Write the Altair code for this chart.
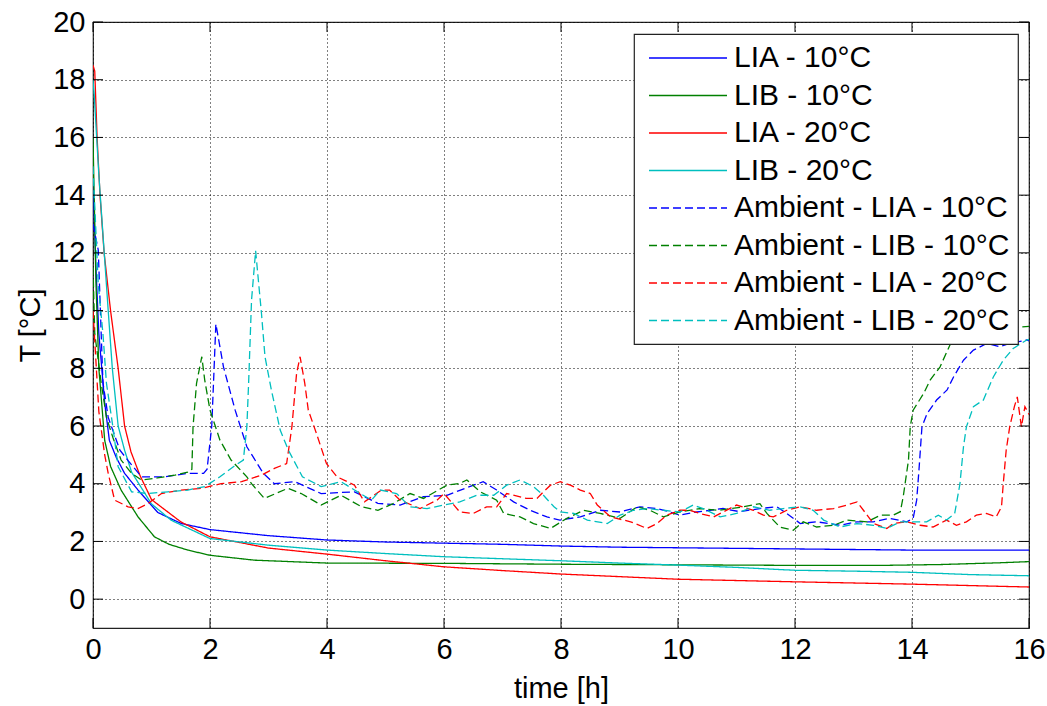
import altair as alt
import pandas as pd

# ---- data (t [h], T [°C]) ----
LIA_10 = [(0, 14.5), (0.05, 11.5), (0.1, 9.2), (0.2, 6.8), (0.28, 5.5), (0.4, 4.9), (0.54, 4.36),
          (0.77, 3.78), (1.11, 3.0), (1.51, 2.62), (2.0, 2.41), (3.0, 2.2), (4.0, 2.05), (5.0, 1.98),
          (6.0, 1.94), (7.0, 1.9), (8.0, 1.84), (9.0, 1.8), (10.0, 1.78), (11.0, 1.76), (12.0, 1.74),
          (13.0, 1.72), (14.0, 1.7), (15.0, 1.7), (16.0, 1.7)]
LIB_10 = [(0, 16.0), (0.05, 11.0), (0.1, 8.0), (0.2, 5.5), (0.3, 4.6), (0.48, 3.78), (0.77, 2.85),
          (1.05, 2.16), (1.3, 1.9), (1.62, 1.7), (2.0, 1.52), (2.76, 1.35), (4.0, 1.25), (6.0, 1.24),
          (8.0, 1.21), (10.0, 1.19), (12.0, 1.17), (13.5, 1.17), (14.5, 1.2), (15.5, 1.26), (16.0, 1.3)]
LIA_20 = [(0, 18.5), (0.03, 18.3), (0.07, 16.0), (0.12, 14.0), (0.19, 12.0), (0.3, 10.0), (0.43, 8.0),
          (0.54, 6.0), (0.65, 5.1), (0.8, 4.3), (1.0, 3.45), (1.5, 2.68), (2.0, 2.16), (3.0, 1.77),
          (4.0, 1.56), (5.0, 1.33), (6.0, 1.12), (7.0, 0.99), (8.0, 0.87), (10.0, 0.69), (12.0, 0.6),
          (14.0, 0.52), (16.0, 0.42)]
LIB_20 = [(0, 18.0), (0.02, 17.5), (0.1, 14.7), (0.26, 10.0), (0.33, 8.0), (0.43, 6.0), (0.54, 5.16),
          (0.66, 4.4), (1.0, 3.3), (1.34, 2.73), (2.0, 2.1), (3.0, 1.87), (4.0, 1.7), (5.0, 1.58),
          (6.0, 1.47), (7.0, 1.4), (8.0, 1.33), (9.0, 1.25), (10.0, 1.18), (11.0, 1.1), (12.0, 1.0),
          (13.0, 0.97), (14.0, 0.93), (15.0, 0.85), (16.0, 0.81)]
AMB_LIA_10 = [(0, 13.0), (0.09, 12.1), (0.14, 9.2), (0.17, 7.5), (0.26, 6.3), (0.46, 5.16), (0.6, 4.8),
              (0.83, 4.24), (1.22, 4.24), (1.62, 4.36), (1.89, 4.36), (1.95, 4.5), (2.03, 6.0), (2.07, 8.0),
              (2.1, 9.53), (2.13, 9.2), (2.23, 8.05), (2.43, 6.55), (2.63, 5.28), (2.91, 4.36), (3.1, 4.0),
              (3.45, 4.07), (3.9, 3.66), (4.47, 3.72), (4.87, 3.32), (5.25, 3.26), (5.65, 3.55), (6.05, 3.6),
              (6.27, 3.77), (6.67, 4.07), (6.9, 3.78), (7.19, 3.37), (7.47, 3.08), (7.76, 2.85), (7.98, 2.74),
              (8.33, 2.85), (8.67, 3.08), (9.01, 3.02), (9.35, 3.2), (9.64, 3.14), (9.86, 3.02), (10.03, 2.91),
              (10.32, 3.02), (10.55, 3.08), (10.77, 3.14), (11.06, 3.03), (11.4, 3.14), (11.69, 3.2),
              (11.86, 2.97), (12.09, 2.62), (12.37, 2.68), (12.77, 2.56), (13.06, 2.68), (13.34, 2.68),
              (13.62, 2.8), (13.91, 2.68), (14.02, 2.8), (14.08, 3.43), (14.12, 4.5), (14.17, 5.97),
              (14.26, 6.44), (14.42, 6.9), (14.6, 7.25), (14.71, 7.7), (14.88, 8.28), (15.05, 8.63),
              (15.28, 8.86), (15.5, 8.75), (15.67, 8.86), (15.96, 8.98), (16.0, 8.95)]
AMB_LIB_10 = [(0, 11.5), (0.03, 9.2), (0.14, 7.5), (0.23, 6.3), (0.34, 5.6), (0.48, 4.82), (0.66, 4.36),
              (0.83, 4.13), (1.1, 4.2), (1.4, 4.3), (1.62, 4.4), (1.69, 4.5), (1.71, 5.97), (1.77, 7.48),
              (1.86, 8.4), (1.91, 7.59), (2.0, 6.55), (2.17, 5.51), (2.36, 4.82), (2.63, 4.24), (2.71, 4.0),
              (2.93, 3.49), (3.33, 3.84), (3.56, 3.66), (3.9, 3.26), (4.24, 3.6), (4.59, 3.2), (4.87, 3.08),
              (5.13, 3.31), (5.42, 3.66), (5.65, 3.49), (6.05, 3.95), (6.27, 4.01), (6.39, 4.13), (6.62, 3.72),
              (6.9, 3.43), (7.02, 2.97), (7.3, 2.85), (7.53, 2.62), (7.82, 2.45), (8.1, 2.8), (8.39, 3.08),
              (8.67, 2.97), (9.01, 2.8), (9.3, 3.2), (9.52, 3.08), (9.75, 2.85), (10.03, 3.02), (10.37, 3.14),
              (10.7, 3.08), (11.12, 3.2), (11.4, 3.31), (11.52, 2.97), (11.74, 2.5), (11.97, 2.39),
              (12.14, 2.68), (12.37, 2.5), (12.66, 2.56), (12.89, 2.74), (13.23, 2.68), (13.46, 2.91),
              (13.68, 2.91), (13.8, 3.03), (13.85, 3.55), (13.94, 4.82), (13.97, 5.97), (14.02, 6.55),
              (14.2, 7.13), (14.31, 7.59), (14.48, 8.05), (14.66, 8.86), (14.77, 9.2), (15.0, 9.3),
              (15.3, 9.35), (15.6, 9.4), (16.0, 9.45)]
AMB_LIA_20 = [(0, 10.0), (0.1, 6.5), (0.2, 5.0), (0.26, 4.36), (0.37, 3.43), (0.6, 3.2), (0.77, 3.14),
              (0.94, 3.31), (1.17, 3.66), (1.51, 3.78), (1.85, 3.84), (2.19, 4.0), (2.54, 4.07), (2.88, 4.3),
              (3.1, 4.53), (3.31, 4.7), (3.4, 5.97), (3.48, 7.82), (3.54, 8.4), (3.62, 7.48), (3.68, 6.55),
              (3.82, 5.74), (3.99, 4.7), (4.17, 4.24), (4.47, 3.95), (4.64, 3.37), (4.93, 3.78), (5.07, 3.78),
              (5.25, 3.43), (5.59, 3.14), (5.88, 3.43), (6.0, 3.66), (6.27, 3.02), (6.5, 2.97), (6.73, 3.2),
              (6.9, 3.2), (7.07, 3.66), (7.41, 3.49), (7.59, 3.49), (7.7, 3.72), (7.82, 3.95), (7.99, 4.07),
              (8.16, 3.95), (8.33, 3.78), (8.5, 3.66), (8.62, 3.26), (8.85, 2.85), (9.19, 2.68), (9.47, 2.45),
              (9.64, 2.62), (9.81, 2.91), (10.03, 3.08), (10.2, 3.08), (10.37, 2.97), (10.61, 2.85),
              (11.0, 3.26), (11.29, 3.08), (11.46, 2.91), (11.63, 2.85), (11.86, 3.08), (12.09, 3.2),
              (12.37, 3.08), (12.66, 3.14), (12.89, 3.26), (13.06, 3.37), (13.17, 3.08), (13.34, 2.62),
              (13.57, 2.45), (13.68, 2.62), (13.91, 2.68), (14.14, 2.56), (14.36, 2.5), (14.59, 2.74),
              (14.76, 2.56), (14.93, 2.68), (15.1, 2.91), (15.27, 2.97), (15.44, 2.85), (15.53, 3.2),
              (15.56, 4.0), (15.61, 5.16), (15.67, 5.97), (15.75, 6.67), (15.8, 7.01), (15.87, 5.97),
              (15.93, 6.67), (16.0, 6.4)]
AMB_LIB_20 = [(0, 15.0), (0.09, 10.9), (0.17, 9.2), (0.23, 7.48), (0.34, 5.97), (0.43, 4.59), (0.66, 3.72),
              (0.94, 3.66), (1.28, 3.72), (1.62, 3.78), (1.91, 3.9), (2.17, 4.24), (2.4, 4.59), (2.57, 4.82),
              (2.63, 5.97), (2.66, 7.48), (2.71, 10.36), (2.78, 12.07), (2.88, 9.9), (2.94, 8.4), (3.05, 7.24),
              (3.2, 5.86), (3.34, 5.16), (3.58, 4.24), (3.9, 3.9), (4.24, 4.07), (4.47, 3.78), (4.76, 3.43),
              (4.91, 3.78), (5.19, 3.66), (5.42, 3.2), (5.71, 3.14), (6.0, 3.26), (6.27, 3.37), (6.56, 3.6),
              (6.85, 3.6), (7.07, 3.95), (7.3, 4.13), (7.53, 3.9), (7.7, 3.6), (7.88, 3.2), (7.99, 3.02),
              (8.22, 2.97), (8.45, 2.74), (8.79, 2.62), (9.01, 2.91), (9.24, 3.08), (9.47, 3.14), (9.75, 3.08),
              (10.03, 3.02), (10.26, 3.26), (10.43, 3.14), (10.72, 2.85), (11.0, 2.97), (11.29, 3.2),
              (11.57, 3.08), (11.8, 3.14), (12.09, 3.2), (12.31, 3.08), (12.49, 2.74), (12.77, 2.5),
              (13.06, 2.62), (13.34, 2.56), (13.57, 2.45), (13.8, 2.68), (14.02, 2.68), (14.25, 2.68),
              (14.45, 2.91), (14.59, 2.74), (14.73, 2.97), (14.82, 4.0), (14.88, 5.28), (14.93, 5.97),
              (15.05, 6.67), (15.22, 6.9), (15.39, 7.7), (15.56, 8.28), (15.73, 8.69), (15.96, 8.98),
              (16.0, 9.0)]

series_names = ["LIA - 10°C", "LIB - 10°C", "LIA - 20°C", "LIB - 20°C",
                "Ambient - LIA - 10°C", "Ambient - LIB - 10°C",
                "Ambient - LIA - 20°C", "Ambient - LIB - 20°C"]
series_data = [LIA_10, LIB_10, LIA_20, LIB_20, AMB_LIA_10, AMB_LIB_10, AMB_LIA_20, AMB_LIB_20]
series_colors = ["#0000ff", "#008000", "#ff0000", "#00bfbf",
                 "#0000ff", "#008000", "#ff0000", "#00bfbf"]
series_dashes = [[1, 0], [1, 0], [1, 0], [1, 0], [8, 4], [8, 4], [8, 4], [8, 4]]

x_ticks = [0, 2, 4, 6, 8, 10, 12, 14, 16]
y_ticks = [0, 2, 4, 6, 8, 10, 12, 14, 16, 18, 20]

rows = []
for name, pts in zip(series_names, series_data):
    for i, (t, v) in enumerate(pts):
        rows.append({"series": name, "t": t, "T": v, "i": i})
df = pd.DataFrame(rows)

W, H = 936, 606
FONT = "Liberation Sans"

xscale = alt.Scale(domain=[0, 16], nice=False, zero=False)
yscale = alt.Scale(domain=[-1, 20], nice=False, zero=False)

lines = alt.Chart(df).mark_line(strokeWidth=1.3, clip=True).encode(
    x=alt.X("t:Q", scale=xscale,
            axis=alt.Axis(values=x_ticks, format="d", title="time [h]", titleX=W / 2, titleY=60,
                          titleAlign="center", titleBaseline="middle")),
    y=alt.Y("T:Q", scale=yscale,
            axis=alt.Axis(values=y_ticks, format="d", title="T [°C]", titleAngle=270, titleX=-63,
                          titleY=H / 2, titleAlign="center", titleBaseline="middle")),
    color=alt.Color("series:N", scale=alt.Scale(domain=series_names, range=series_colors), title=None),
    strokeDash=alt.StrokeDash("series:N", scale=alt.Scale(domain=series_names, range=series_dashes),
                              title=None),
    order="i:Q",
)

xt = pd.DataFrame({"t": x_ticks})
yt = pd.DataFrame({"T": y_ticks})
tick_bottom = alt.Chart(xt).mark_rule(color="black", strokeWidth=1).encode(
    x=alt.X("t:Q", scale=xscale), y=alt.value(H), y2=alt.value(H - 10))
tick_top = alt.Chart(xt).mark_rule(color="black", strokeWidth=1).encode(
    x=alt.X("t:Q", scale=xscale), y=alt.value(0), y2=alt.value(10))
tick_left = alt.Chart(yt).mark_rule(color="black", strokeWidth=1).encode(
    y=alt.Y("T:Q", scale=yscale), x=alt.value(0), x2=alt.value(10))
tick_right = alt.Chart(yt).mark_rule(color="black", strokeWidth=1).encode(
    y=alt.Y("T:Q", scale=yscale), x=alt.value(W - 10), x2=alt.value(W))

chart = alt.layer(lines, tick_bottom, tick_top, tick_left, tick_right).properties(
    width=W, height=H,
    autosize=alt.AutoSizeParams(type="none"),
    padding={"left": 93, "top": 22, "right": 18, "bottom": 78},
    background="white",
).configure_view(
    stroke="#222222", strokeWidth=1.2
).configure_axis(
    domain=False, ticks=False, grid=True, gridColor="#000000", gridDash=[1, 3], gridWidth=1,
    labelFont=FONT, labelFontSize=29, labelColor="black", labelPadding=8, labelFlush=False,
    titleFont=FONT, titleFontSize=29, titleColor="black", titleFontWeight="normal",
).configure_axisX(
    labelPadding=7
).configure_legend(
    orient="none", legendX=541, legendY=12,
    fillColor="white", strokeColor="#222222", strokeWidth=1.2, padding=8, cornerRadius=0,
    labelFont=FONT, labelFontSize=30, labelColor="black", labelOffset=60, labelLimit=500,
    symbolType="M-0.6,0H4.6", symbolSize=900, symbolStrokeWidth=1.3, rowPadding=6.5,
)

chart.save("out.html", embed_options={"renderer": "svg", "actions": False})
